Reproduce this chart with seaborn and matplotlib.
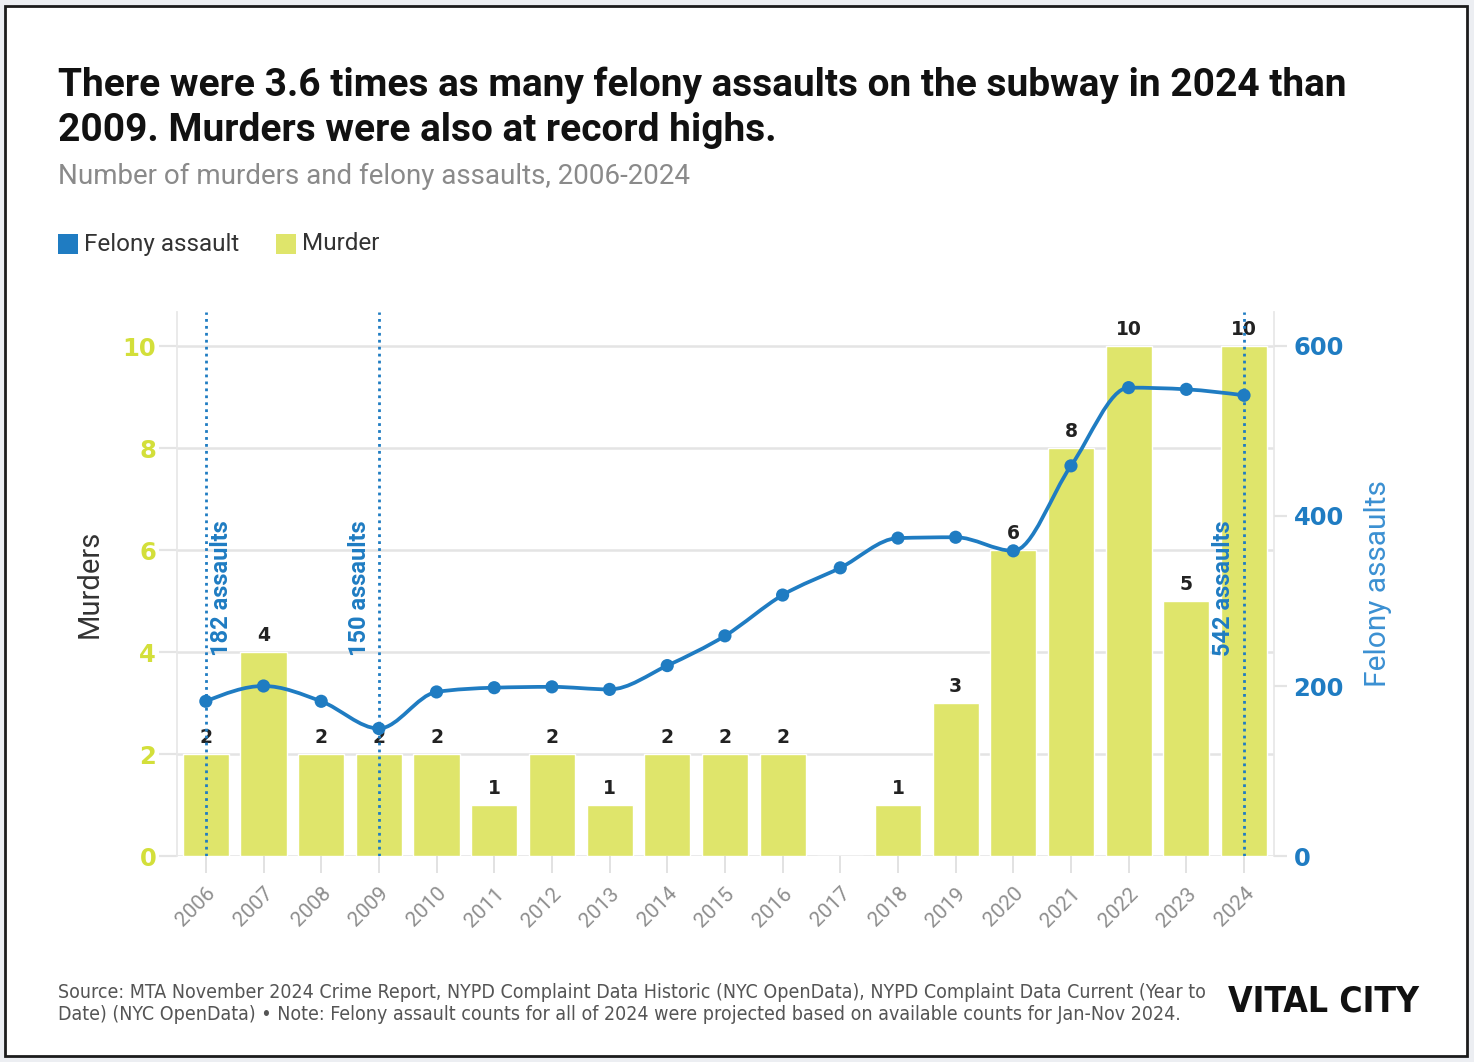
import numpy as np
import pandas as pd
import matplotlib
matplotlib.use("Agg")
import matplotlib.pyplot as plt
import seaborn as sns
from matplotlib.path import Path
from matplotlib.patches import PathPatch, Rectangle

# ---------------- data ----------------
years = ["2006", "2007", "2008", "2009", "2010", "2011", "2012", "2013", "2014",
         "2015", "2016", "2017", "2018", "2019", "2020", "2021", "2022", "2023", "2024"]
murders = [2, 4, 2, 2, 2, 1, 2, 1, 2, 2, 2, 0, 1, 3, 6, 8, 10, 5, 10]
felony_assaults = [182, 200, 182, 150, 193, 198, 199, 196, 224, 259, 307, 339,
                   374, 375, 359, 459, 551, 549, 542]
murder_ticks = [0, 2, 4, 6, 8, 10]
assault_ticks = [0, 200, 400, 600]
callout_years = ["2006", "2009", "2024"]
callout_labels = ["182 assaults", "150 assaults", "542 assaults"]

title_lines = ["There were 3.6 times as many felony assaults on the subway in 2024 than",
               "2009. Murders were also at record highs."]
subtitle = "Number of murders and felony assaults, 2006-2024"
source_lines = ["Source: MTA November 2024 Crime Report, NYPD Complaint Data Historic (NYC OpenData), NYPD Complaint Data Current (Year to",
                "Date) (NYC OpenData) \u2022 Note: Felony assault counts for all of 2024 were projected based on available counts for Jan-Nov 2024."]

# ---------------- style ----------------
BLUE = "#1f7cc2"
BLUE_LIGHT = "#3b90d2"
YELLOW = "#dfe56b"
YELLOW_TXT = "#d3df3a"
GRID = "#e4e4e4"

sns.set_theme(style="white")
plt.rcParams["font.family"] = ["Roboto", "DejaVu Sans"]
NUM_FONT = ["DejaVu Sans"]

W, H = 1474, 1062
fig = plt.figure(figsize=(W / 100, H / 100), dpi=100)
fig.patch.set_facecolor("#eceef2")
fig.patches.append(Rectangle((5 / W, 6 / H), (1467 - 5) / W, (1056 - 6) / H,
                             transform=fig.transFigure, facecolor="white",
                             edgecolor="#1c1c1c", lw=2.0, zorder=-5))

def fy(py):
    return 1 - py / H

# ---------------- axes ----------------
ax = fig.add_axes([177 / W, fy(856), (1274 - 177) / W, (856 - 312) / H])
ax.set_facecolor("none")

df = pd.DataFrame({"year": years, "murders": murders,
                   "assaults": felony_assaults, "pos": np.arange(len(years))})

sns.barplot(data=df, x="year", y="murders", color=YELLOW, saturation=1,
            width=0.8, ax=ax, zorder=2)

ax.set_xlim(-0.5, 18.52)
ax.set_ylim(0, 10.667)
ax.set_yticks(murder_ticks)
ax.set_yticklabels([str(t) for t in murder_ticks], color=YELLOW_TXT,
                   fontweight="bold", fontsize=17.5, family=NUM_FONT)
ax.grid(axis="y", color=GRID, lw=1.8)
ax.grid(axis="x", visible=False)
ax.set_axisbelow(True)
ax.tick_params(axis="y", left=True, length=13, width=1.6, color=GRID, pad=2)
ax.set_xticks(np.arange(len(years)))
ax.set_xticklabels(years, rotation=45, ha="right", va="top",
                   rotation_mode="anchor", color="#8e8e8e", fontsize=15)
ax.tick_params(axis="x", bottom=True, length=12, width=1.2, color="#dddddd", pad=8)
for s in ["top", "bottom"]:
    ax.spines[s].set_visible(False)
for s in ["left", "right"]:
    ax.spines[s].set_color("#e8e8e8")
    ax.spines[s].set_linewidth(1.3)
ax.set_xlabel("")
ax.set_ylabel("Murders", fontsize=21, color="#333333")
ax.yaxis.set_label_coords((104 - 177) / 1097, 0.5)

# bar value labels
for cont in ax.containers:
    ax.bar_label(cont, labels=[str(v) if v > 0 else "" for v in murders],
                 padding=5, fontsize=13.5, fontweight="bold", color="#222222",
                 family=NUM_FONT)

# callout dotted lines + text
callout_offsets = [0.28, -0.33, -0.35]
for yr, lab, off in zip(callout_years, callout_labels, callout_offsets):
    i = years.index(yr)
    ax.axvline(i, color=BLUE, ls=(0, (1, 1.5)), lw=2.0, zorder=5)
    ax.text(i + off, 3.93, lab, rotation=90, ha="center", va="bottom",
            color=BLUE, fontweight="bold", fontsize=17, zorder=6)

# ---------------- twin axis: felony assaults ----------------
ax2 = ax.twinx()
ax2.set_ylim(0, 640)
ax2.set_xlim(ax.get_xlim())
ax2.patch.set_visible(False)


def monotone_path(xs, ys):
    xs = np.asarray(xs, float)
    ys = np.asarray(ys, float)
    n = len(xs)
    h = np.diff(xs)
    s = np.diff(ys) / h
    t = np.zeros(n)
    for i in range(1, n - 1):
        h0, h1, s0, s1 = h[i - 1], h[i], s[i - 1], s[i]
        p = (s0 * h1 + s1 * h0) / (h0 + h1)
        t[i] = (np.sign(s0) + np.sign(s1)) * min(abs(s0), abs(s1), 0.5 * abs(p))
    t[0] = (3 * s[0] - t[1]) / 2
    t[-1] = (3 * s[-1] - t[-2]) / 2
    verts = [(xs[0], ys[0])]
    codes = [Path.MOVETO]
    for i in range(n - 1):
        d = h[i] / 3
        verts += [(xs[i] + d, ys[i] + d * t[i]),
                  (xs[i + 1] - d, ys[i + 1] - d * t[i + 1]),
                  (xs[i + 1], ys[i + 1])]
        codes += [Path.CURVE4] * 3
    return Path(verts, codes)


ax2.add_patch(PathPatch(monotone_path(df["pos"], df["assaults"]), fill=False,
                        edgecolor=BLUE, lw=2.7, zorder=3, capstyle="round"))
sns.scatterplot(data=df, x="pos", y="assaults", color=BLUE, s=90,
                edgecolor="none", ax=ax2, zorder=4, legend=False)
ax2.set_xlabel("")
ax2.set_yticks(assault_ticks)
ax2.set_yticklabels([str(t) for t in assault_ticks], color=BLUE,
                    fontweight="bold", fontsize=17.5, family=NUM_FONT)
ax2.tick_params(axis="y", right=True, length=9, width=1.6, color=GRID, pad=5)
for s in ax2.spines.values():
    s.set_visible(False)
ax2.set_ylabel("Felony assaults", fontsize=21.5, color=BLUE_LIGHT,
               fontweight="normal")
ax2.yaxis.set_label_coords((1364 - 177) / 1097, 0.5)

# ---------------- header ----------------
fig.text(58 / W, fy(96), title_lines[0], fontsize=28, fontweight="bold",
         color="#111111", va="baseline", ha="left")
fig.text(58 / W, fy(141), title_lines[1], fontsize=28, fontweight="bold",
         color="#111111", va="baseline", ha="left")
fig.text(58 / W, fy(184), subtitle, fontsize=20, color="#8a8a8a",
         va="baseline", ha="left")

# legend
fig.patches.append(Rectangle((58 / W, fy(254)), 20 / W, 20 / H,
                             transform=fig.transFigure, facecolor=BLUE,
                             edgecolor="none"))
fig.text(84 / W, fy(244), "Felony assault", fontsize=17.5, color="#333333",
         va="center", ha="left")
fig.patches.append(Rectangle((276 / W, fy(254)), 20 / W, 20 / H,
                             transform=fig.transFigure, facecolor=YELLOW,
                             edgecolor="none"))
fig.text(302 / W, fy(244), "Murder", fontsize=17.5, color="#333333",
         va="center", ha="left")

# ---------------- footer ----------------
fig.text(58 / W, fy(993), source_lines[0], fontsize=14, color="#555555",
         va="center", ha="left", family="DejaVu Sans", fontstretch="condensed")
fig.text(58 / W, fy(1015), source_lines[1], fontsize=14, color="#555555",
         va="center", ha="left", family="DejaVu Sans", fontstretch="condensed")
fig.text(1228 / W, fy(1002), "VITAL CITY", fontsize=25.5, fontweight="bold",
         color="#111111", va="center", ha="left", family="DejaVu Sans",
         fontstretch="condensed")

fig.savefig("out.png", dpi=100, facecolor=fig.get_facecolor())
